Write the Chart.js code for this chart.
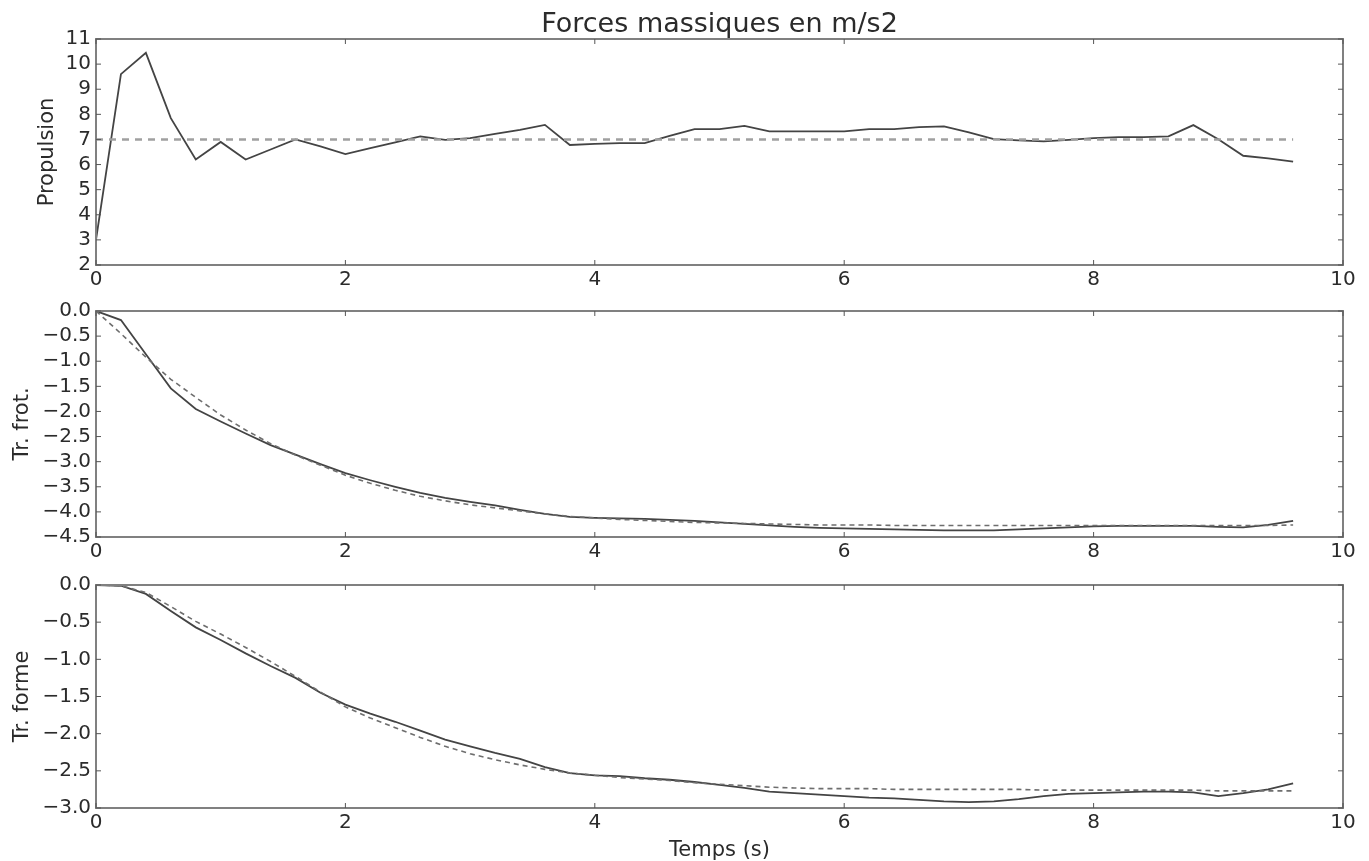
<!DOCTYPE html>
<html>
<head>
<meta charset="utf-8">
<script src="https://cdn.jsdelivr.net/npm/chart.js@4"></script>
<style>
  body { margin: 0; background: #fff; }
  .panel { position: absolute; left: 0; }
</style>
</head>
<body>
<div class="panel" style="top:0px"><canvas id="c1" width="1369" height="295"></canvas></div>
<div class="panel" style="top:295px"><canvas id="c2" width="1369" height="275"></canvas></div>
<div class="panel" style="top:570px"><canvas id="c3" width="1369" height="291"></canvas></div>
<script>
// temps (s), un point toutes les 0.2 s
var times = [0, 0.2, 0.4, 0.6, 0.8, 1.0, 1.2, 1.4, 1.6, 1.8,
             2.0, 2.2, 2.4, 2.6, 2.8, 3.0, 3.2, 3.4, 3.6, 3.8,
             4.0, 4.2, 4.4, 4.6, 4.8, 5.0, 5.2, 5.4, 5.6, 5.8,
             6.0, 6.2, 6.4, 6.6, 6.8, 7.0, 7.2, 7.4, 7.6, 7.8,
             8.0, 8.2, 8.4, 8.6, 8.8, 9.0, 9.2, 9.4, 9.6];

var propulsion = [3.0, 9.6, 10.45, 7.85, 6.2, 6.9, 6.2, 6.6, 7.0, 6.72,
                  6.42, 6.65, 6.88, 7.12, 6.98, 7.05, 7.22, 7.38, 7.58, 6.78,
                  6.82, 6.85, 6.85, 7.14, 7.41, 7.41, 7.54, 7.32, 7.32, 7.32,
                  7.32, 7.41, 7.41, 7.49, 7.52, 7.28, 7.01, 6.96, 6.92, 6.98,
                  7.05, 7.09, 7.09, 7.12, 7.57, 7.01, 6.35, 6.25, 6.12];
var propRefTimes = [0, 9.6];
var propRef = [7.0, 7.0];

var frot = [0, -0.18, -0.86, -1.54, -1.95, -2.2, -2.44, -2.67, -2.86, -3.05,
            -3.23, -3.37, -3.5, -3.62, -3.72, -3.8, -3.87, -3.96, -4.04, -4.1,
            -4.12, -4.13, -4.14, -4.16, -4.18, -4.21, -4.24, -4.27, -4.3, -4.32,
            -4.33, -4.34, -4.35, -4.36, -4.37, -4.37, -4.37, -4.35, -4.33, -4.31,
            -4.29, -4.28, -4.28, -4.28, -4.28, -4.3, -4.31, -4.26, -4.18];
var frotRef = [0, -0.45, -0.92, -1.36, -1.72, -2.07, -2.37, -2.64, -2.87, -3.07,
               -3.27, -3.43, -3.57, -3.69, -3.78, -3.86, -3.92, -3.98, -4.04, -4.09,
               -4.12, -4.15, -4.17, -4.19, -4.21, -4.22, -4.23, -4.24, -4.25, -4.26,
               -4.26, -4.26, -4.27, -4.27, -4.27, -4.27, -4.27, -4.27, -4.27, -4.27,
               -4.27, -4.27, -4.27, -4.27, -4.27, -4.27, -4.27, -4.27, -4.26];

var forme = [0, -0.01, -0.12, -0.35, -0.57, -0.74, -0.92, -1.09, -1.25, -1.45,
             -1.61, -1.73, -1.84, -1.96, -2.08, -2.17, -2.26, -2.34, -2.45, -2.53,
             -2.56, -2.57, -2.6, -2.62, -2.65, -2.69, -2.73, -2.78, -2.8, -2.82,
             -2.84, -2.86, -2.87, -2.89, -2.91, -2.92, -2.91, -2.88, -2.84, -2.81,
             -2.8, -2.79, -2.78, -2.78, -2.79, -2.84, -2.8, -2.75, -2.67];
var formeRef = [0, -0.01, -0.1, -0.29, -0.49, -0.66, -0.84, -1.03, -1.23, -1.44,
                -1.64, -1.79, -1.92, -2.05, -2.17, -2.27, -2.35, -2.42, -2.48, -2.53,
                -2.56, -2.59, -2.61, -2.63, -2.66, -2.68, -2.7, -2.72, -2.73, -2.74,
                -2.74, -2.74, -2.75, -2.75, -2.75, -2.75, -2.75, -2.75, -2.76, -2.76,
                -2.76, -2.76, -2.76, -2.76, -2.76, -2.77, -2.77, -2.77, -2.77];

var FONT = "'DejaVu Sans', sans-serif";
var TXT = '#2b2b2b';

function pts(xs, ys) {
    return ys.map(function(v, i) { return {x: xs[i], y: v}; });
}

function minus(v) {
    return String(v).replace('-', '\u2212');
}

// cadre + petites graduations vers l'intérieur (style matplotlib)
var frame = {
    id: 'frame',
    afterDatasetsDraw: function(chart) {
        var ctx = chart.ctx, a = chart.chartArea;
        var x = chart.scales.x, y = chart.scales.y;
        ctx.save();
        ctx.strokeStyle = '#808080';
        ctx.lineWidth = 2;
        ctx.strokeRect(a.left, a.top, a.right - a.left, a.bottom - a.top);
        ctx.lineWidth = 1;
        ctx.strokeStyle = '#555';
        ctx.beginPath();
        x.ticks.forEach(function(t) {
            var px = x.getPixelForValue(t.value);
            ctx.moveTo(px, a.top); ctx.lineTo(px, a.top + 5);
            ctx.moveTo(px, a.bottom); ctx.lineTo(px, a.bottom - 5);
        });
        y.ticks.forEach(function(t) {
            var py = y.getPixelForValue(t.value);
            ctx.moveTo(a.left, py); ctx.lineTo(a.left + 5, py);
            ctx.moveTo(a.right, py); ctx.lineTo(a.right - 5, py);
        });
        ctx.stroke();
        ctx.restore();
    }
};

function makeChart(id, cfg) {
    return new Chart(document.getElementById(id), {
        type: 'line',
        data: {
            datasets: [{
                data: pts(cfg.refX, cfg.ref),
                borderColor: cfg.refColor,
                borderWidth: cfg.refWidth,
                borderDash: cfg.refDash,
                pointRadius: 0,
                fill: false
            }, {
                data: pts(times, cfg.values),
                borderColor: '#444',
                borderWidth: 1.8,
                pointRadius: 0,
                fill: false
            }]
        },
        options: {
            responsive: false,
            animation: false,
            layout: { padding: { left: cfg.padLeft, right: 26, top: cfg.padTop, bottom: 0 } },
            plugins: {
                legend: { display: false },
                tooltip: { enabled: false },
                title: cfg.title ? {
                    display: true,
                    text: cfg.title,
                    color: TXT,
                    fullSize: false,
                    font: { family: FONT, size: 27, weight: 'normal', lineHeight: 1 },
                    padding: { top: 11, bottom: 1 }
                } : { display: false }
            },
            scales: {
                x: {
                    type: 'linear',
                    min: 0, max: 10,
                    grid: { display: false, drawTicks: false },
                    border: { display: false },
                    ticks: { stepSize: 2, padding: 3, color: TXT, maxRotation: 0,
                             font: { family: FONT, size: 20 } },
                    title: cfg.xTitle ? {
                        display: true, text: cfg.xTitle, color: TXT,
                        font: { family: FONT, size: 21, lineHeight: 1 },
                        padding: { top: 0, bottom: 0 }
                    } : { display: false },
                    afterFit: function(s) { s.height = cfg.xHeight; }
                },
                y: {
                    min: cfg.yMin, max: cfg.yMax,
                    grid: { display: false, drawTicks: false },
                    border: { display: false },
                    ticks: { stepSize: cfg.yStep, padding: 5, color: TXT,
                             font: { family: FONT, size: 20, lineHeight: 1 },
                             callback: cfg.yFmt },
                    title: {
                        display: true, text: cfg.yTitle, color: TXT,
                        font: { family: FONT, size: 21 },
                        padding: { top: 0, bottom: 0 }
                    },
                    afterFit: function(s) { s.width = 96 - cfg.padLeft; }
                }
            }
        },
        plugins: [frame]
    });
}

makeChart('c1', {
    title: 'Forces massiques en m/s2',
    values: propulsion, refX: propRefTimes, ref: propRef,
    refColor: '#a0a0a0', refWidth: 2.5, refDash: [7, 6],
    yMin: 2, yMax: 11, yStep: 1, yTitle: 'Propulsion',
    yFmt: function(v) { return String(v); },
    padLeft: 35, padTop: 0, xHeight: 30
});

makeChart('c2', {
    values: frot, refX: times, ref: frotRef,
    refColor: '#6e6e6e', refWidth: 1.6, refDash: [5, 4],
    yMin: -4.5, yMax: 0, yStep: 0.5, yTitle: 'Tr. frot.',
    yFmt: function(v) { return minus(v.toFixed(1)); },
    padLeft: 10, padTop: 16, xHeight: 33
});

makeChart('c3', {
    values: forme, refX: times, ref: formeRef,
    refColor: '#6e6e6e', refWidth: 1.6, refDash: [5, 4],
    yMin: -3, yMax: 0, yStep: 0.5, yTitle: 'Tr. forme',
    yFmt: function(v) { return minus(v.toFixed(1)); },
    xTitle: 'Temps (s)',
    padLeft: 10, padTop: 13, xHeight: 53
});
</script>
</body>
</html>
